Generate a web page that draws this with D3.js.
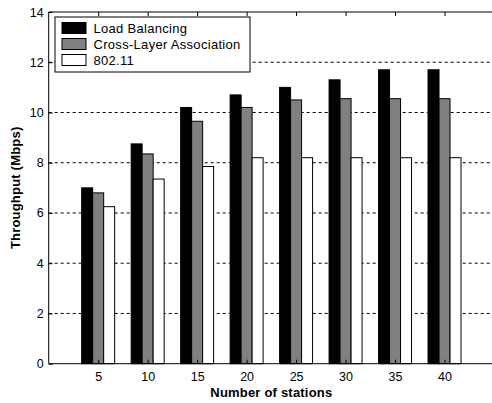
<!DOCTYPE html>
<html>
<head>
<meta charset="utf-8">
<script src="https://cdn.jsdelivr.net/npm/d3@7"></script>
<style>
  html, body { margin: 0; padding: 0; background: #fff; }
  svg { display: block; font-family: "Liberation Sans", Arial, sans-serif; }
</style>
</head>
<body>
<div id="chart"></div>
<script>
// stations on the x axis
const stations = [5, 10, 15, 20, 25, 30, 35, 40];
// throughput in Mbps
const loadBalancing = [7.0, 8.75, 10.2, 10.7, 11.0, 11.3, 11.7, 11.7];
const crossLayer = [6.8, 8.35, 9.65, 10.2, 10.5, 10.55, 10.55, 10.55];
const wifi = [6.25, 7.35, 7.85, 8.2, 8.2, 8.2, 8.2, 8.2];
const seriesNames = ["Load Balancing", "Cross-Layer Association", "802.11"];
const seriesFill = ["#000000", "#808080", "#ffffff"];
const yTicks = [0, 2, 4, 6, 8, 10, 12, 14];

const width = 492, height = 403;
const plotLeft = 48.7, plotTop = 12, plotBottom = 363.7, plotRight = 494;

const svg = d3.select("#chart").append("svg")
    .attr("width", width)
    .attr("height", height);

svg.append("rect").attr("width", width).attr("height", height).attr("fill", "#fff");

const x = d3.scaleLinear().domain([0, 45]).range([plotLeft, plotRight]);
const y = d3.scaleLinear().domain([0, 14]).range([plotBottom, plotTop]);

// dashed grid lines
svg.append("g")
    .selectAll("line")
    .data(yTicks.filter(d => d > 0 && d < 14))
    .enter()
    .append("line")
    .attr("x1", plotLeft)
    .attr("x2", plotRight)
    .attr("y1", d => y(d))
    .attr("y2", d => y(d))
    .style("stroke", "#000")
    .style("stroke-width", 1)
    .style("stroke-dasharray", "3,3");

// grouped bars, three per station count
const allSeries = [loadBalancing, crossLayer, wifi];
const groupWidth = 5 * 2 / 3;
const barWidth = groupWidth / 3;
const bars = [];
allSeries.forEach((vals, s) => {
    vals.forEach((v, i) => {
        bars.push({ s: s, station: stations[i], value: v });
    });
});

svg.append("g")
    .selectAll("rect")
    .data(bars)
    .enter()
    .append("rect")
    .attr("x", d => x(d.station + (d.s - 1.5) * barWidth))
    .attr("width", d => x(barWidth) - x(0))
    .attr("y", d => y(d.value))
    .attr("height", d => y(0) - y(d.value))
    .style("fill", d => seriesFill[d.s])
    .style("stroke", "#000")
    .style("stroke-width", 1);

// axes box: left, top, bottom
const yAxis = d3.axisLeft(y).tickValues(yTicks).tickSize(-4).tickPadding(5);
svg.append("g")
    .attr("transform", `translate(${plotLeft},0)`)
    .call(yAxis);

const xAxis = d3.axisBottom(x).tickValues(stations).tickSize(-4).tickPadding(8);
svg.append("g")
    .attr("transform", `translate(0,${plotBottom})`)
    .call(xAxis);

const xTop = d3.axisTop(x).tickValues(stations).tickSize(-4).tickFormat("");
svg.append("g")
    .attr("transform", `translate(0,${plotTop})`)
    .call(xTop);

svg.selectAll(".domain").remove();
svg.append("line").attr("x1", plotLeft).attr("x2", plotLeft).attr("y1", plotTop).attr("y2", plotBottom)
    .style("stroke", "#000");
svg.append("line").attr("x1", plotLeft).attr("x2", plotRight).attr("y1", plotTop).attr("y2", plotTop)
    .style("stroke", "#000");
svg.append("line").attr("x1", plotLeft).attr("x2", plotRight).attr("y1", plotBottom).attr("y2", plotBottom)
    .style("stroke", "#000");

svg.selectAll(".tick text")
    .style("font-size", "12.5px")
    .style("font-family", "'Liberation Sans', Arial, sans-serif")
    .style("fill", "#000");
svg.selectAll(".tick line").style("stroke", "#000");

// axis titles
svg.append("text")
    .attr("x", x(22.5))
    .attr("y", 397)
    .attr("text-anchor", "middle")
    .style("font-size", "13px")
    .style("font-weight", "bold")
    .style("letter-spacing", "0.2px")
    .text("Number of stations");

svg.append("text")
    .attr("transform", `translate(20,${(plotTop + plotBottom) / 2}) rotate(-90)`)
    .attr("text-anchor", "middle")
    .style("font-size", "13px")
    .style("font-weight", "bold")
    .style("letter-spacing", "0.2px")
    .text("Throughput (Mbps)");

// legend
const legend = svg.append("g").attr("transform", "translate(55,17)");
legend.append("rect")
    .attr("width", 195)
    .attr("height", 55)
    .style("fill", "#fff")
    .style("stroke", "#000");

const items = legend.selectAll("g.item")
    .data(seriesNames)
    .enter()
    .append("g")
    .attr("transform", (d, i) => `translate(0,${11 + i * 16})`);

items.append("rect")
    .attr("x", 7)
    .attr("y", -5.5)
    .attr("width", 24)
    .attr("height", 11)
    .style("fill", (d, i) => seriesFill[i])
    .style("stroke", "#000");

items.append("text")
    .attr("x", 38.5)
    .attr("y", 4.5)
    .style("font-size", "13px")
    .style("letter-spacing", "0.3px")
    .text(d => d);
</script>
</body>
</html>
